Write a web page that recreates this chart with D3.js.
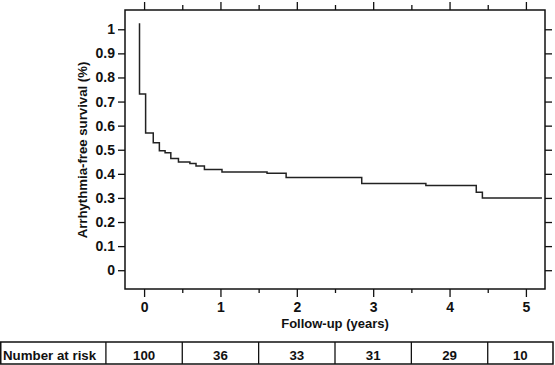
<!DOCTYPE html>
<html>
<head>
<meta charset="utf-8">
<script src="https://cdn.jsdelivr.net/npm/d3@7"></script>
<style>
  body { margin: 0; background: #fff; }
  svg text { font-family: 'Liberation Sans', Arial, Helvetica, sans-serif; font-weight: bold; fill: #111; }
</style>
</head>
<body>
<div id="container"></div>
<script>
'use strict';

// Kaplan-Meier step points
const times = [-0.06, -0.06, 0.02, 0.12, 0.2, 0.275, 0.35, 0.45, 0.6, 0.68, 0.79, 1.02, 1.61, 1.86, 2.85, 3.69, 4.35, 4.43, 5.21];
const survival = [1.025, 0.731, 0.57, 0.529, 0.496, 0.487, 0.464, 0.449, 0.443, 0.432, 0.418, 0.408, 0.402, 0.385, 0.36, 0.352, 0.324, 0.30, 0.30];

const yTicks = [0, 0.1, 0.2, 0.3, 0.4, 0.5, 0.6, 0.7, 0.8, 0.9, 1];
const xTicks = [0, 1, 2, 3, 4, 5];
const xMinorTicks = [0.5, 1.5, 2.5, 3.5, 4.5];
const riskYears = [0, 1, 2, 3, 4, 5];
const riskCounts = [100, 36, 33, 31, 29, 10];

const w = 555;
const h = 365;
const plotLeft = 125, plotRight = 545, plotTop = 10, plotBottom = 289;

const svg = d3.select('#container')
                .append('svg')
                .attr('width', w)
                .attr('height', h);

const xScale = d3.scaleLinear().domain([-0.25, 5.25]).range([plotLeft, plotRight]);
const yScale = d3.scaleLinear().domain([-0.078, 1.08]).range([plotBottom, plotTop]);

// frame
svg.append('rect')
    .attr('x', plotLeft)
    .attr('y', plotTop)
    .attr('width', plotRight - plotLeft)
    .attr('height', plotBottom - plotTop)
    .attr('fill', 'none')
    .attr('stroke', '#111')
    .attr('stroke-width', 1.5);

function styleAxis(g) {
    g.select('.domain').remove();
    g.selectAll('line').attr('stroke', '#111').attr('stroke-width', 1.3);
    g.selectAll('text').attr('font-size', 14).attr('font-family', null);
}

// y axes
svg.append('g')
    .attr('transform', 'translate(' + plotLeft + ',0)')
    .call(d3.axisLeft(yScale).tickValues(yTicks).tickSize(7).tickPadding(3).tickFormat(d3.format('')))
    .call(styleAxis);
svg.append('g')
    .attr('transform', 'translate(' + plotRight + ',0)')
    .call(d3.axisRight(yScale).tickValues(yTicks).tickSize(7).tickFormat(''))
    .call(styleAxis);

// x axes
svg.append('g')
    .attr('transform', 'translate(0,' + plotBottom + ')')
    .call(d3.axisBottom(xScale).tickValues(xTicks).tickSize(8).tickPadding(5).tickFormat(d3.format('d')))
    .call(styleAxis);
svg.append('g')
    .attr('transform', 'translate(0,' + plotBottom + ')')
    .call(d3.axisBottom(xScale).tickValues(xMinorTicks).tickSize(4).tickFormat(''))
    .call(styleAxis);
svg.append('g')
    .attr('transform', 'translate(0,' + plotTop + ')')
    .call(d3.axisTop(xScale).tickValues(xTicks).tickSize(8).tickFormat(''))
    .call(styleAxis);
svg.append('g')
    .attr('transform', 'translate(0,' + plotTop + ')')
    .call(d3.axisTop(xScale).tickValues(xMinorTicks).tickSize(5).tickFormat(''))
    .call(styleAxis);

// survival curve
const line = d3.line()
                .x((d, i) => xScale(times[i]))
                .y((d) => yScale(d))
                .curve(d3.curveStepAfter);

svg.append('path')
    .datum(survival)
    .attr('d', line)
    .attr('fill', 'none')
    .attr('stroke', '#222')
    .attr('stroke-width', 1.5);

// axis titles
svg.append('text')
    .attr('transform', 'translate(87,150) rotate(-90)')
    .attr('text-anchor', 'middle')
    .attr('font-size', 13.2)
    .text('Arrhythmia-free survival (%)');

svg.append('text')
    .attr('x', (plotLeft + plotRight) / 2)
    .attr('y', 328)
    .attr('text-anchor', 'middle')
    .attr('font-size', 13)
    .text('Follow-up (years)');

// number at risk table
const tTop = 342, tBottom = 364, tRight = 553;
const table = svg.append('g');

table.append('rect')
    .attr('x', 0.75)
    .attr('y', tTop)
    .attr('width', tRight - 0.75)
    .attr('height', tBottom - tTop)
    .attr('fill', 'none')
    .attr('stroke', '#111')
    .attr('stroke-width', 1.5);

table.selectAll('line.div')
    .data(riskYears)
    .enter()
    .append('line')
    .attr('class', 'div')
    .attr('x1', (d) => xScale(d - 0.5))
    .attr('x2', (d) => xScale(d - 0.5))
    .attr('y1', tTop)
    .attr('y2', tBottom)
    .attr('stroke', '#111')
    .attr('stroke-width', 1.3);

table.append('text')
    .attr('x', 3)
    .attr('y', 360)
    .attr('font-size', 13.3)
    .text('Number at risk');

table.selectAll('text.count')
    .data(riskCounts)
    .enter()
    .append('text')
    .attr('class', 'count')
    .attr('x', (d, i) => {
        const a = xScale(riskYears[i] - 0.5);
        const b = Math.min(xScale(riskYears[i] + 0.5), tRight);
        return (a + b) / 2;
    })
    .attr('y', 360)
    .attr('text-anchor', 'middle')
    .attr('font-size', 13.3)
    .text((d) => d);
</script>
</body>
</html>
